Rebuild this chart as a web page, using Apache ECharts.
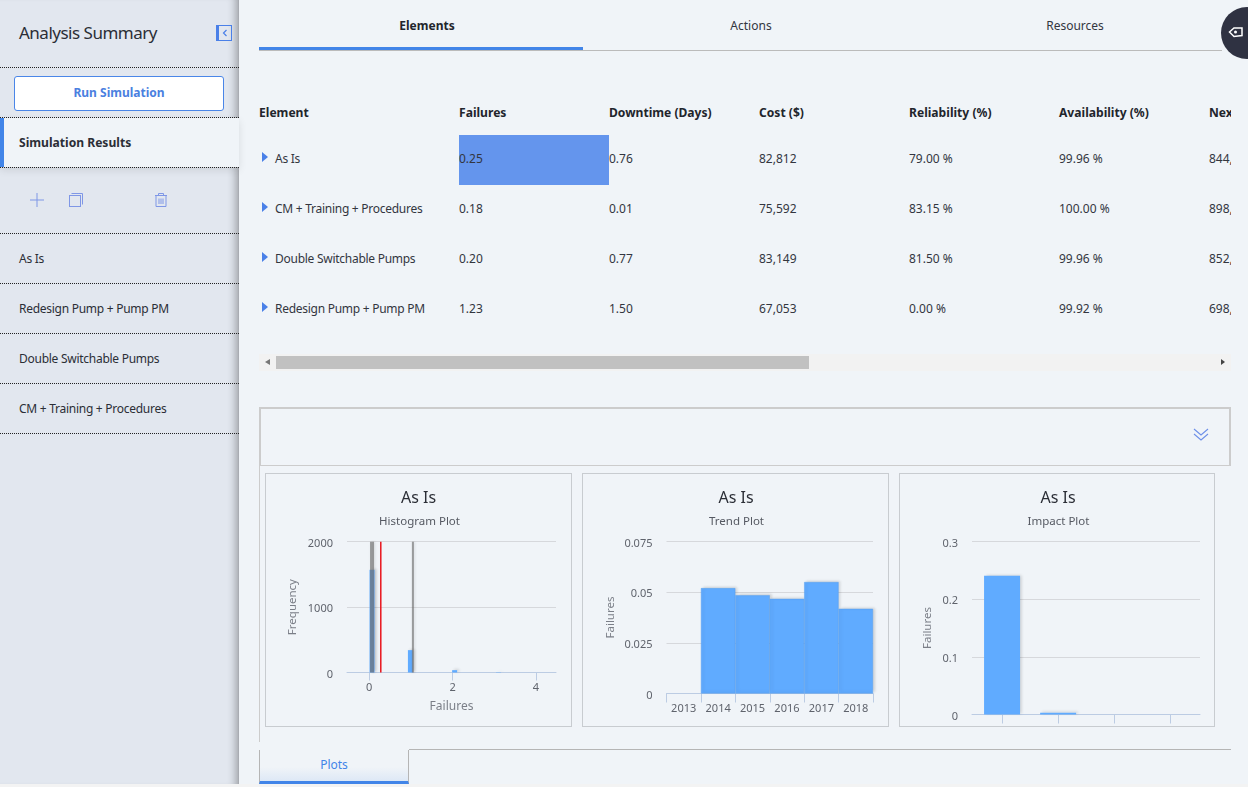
<!DOCTYPE html>
<html><head><meta charset="utf-8">
<script src="https://cdn.jsdelivr.net/npm/echarts@6/dist/echarts.min.js"></script>
<style>
*{box-sizing:border-box}
html,body{margin:0;padding:0;width:1248px;height:787px;overflow:hidden;background:#f3f3f3;font-family:"Noto Sans",sans-serif;color:#2b2e36}
.a{position:absolute;white-space:nowrap}
#main{position:absolute;left:0;top:0;width:1248px;height:784px;background:#f0f4f8}
#side{position:absolute;left:0;top:0;width:239px;height:784px;background:#e2e7ef;box-shadow:inset -9px 0 8px -7px rgba(0,0,0,.32);border-right:1px solid #a9acb2}
.dot{position:absolute;left:0;width:239px;border-top:1px dotted #222}
.nav{position:absolute;left:19px;font-size:12px;letter-spacing:-.27px;line-height:16px}
.th{position:absolute;top:104px;font-size:12.1px;font-weight:700;line-height:17px;white-space:nowrap;color:#22252c}
.td{position:absolute;font-size:12px;line-height:16px;white-space:nowrap;color:#33363f}
.tab{position:absolute;top:17px;width:324px;text-align:center;font-size:12px;line-height:17px}
.box{position:absolute;border:1px solid #c8ccd0}
.tri{position:absolute;width:0;height:0;border-left:6px solid #4a80e8;border-top:5px solid transparent;border-bottom:5px solid transparent}
#clip{position:absolute;left:0;top:0;width:1231px;height:340px;overflow:hidden}
#chart{position:absolute;left:259px;top:466px;width:972px;height:270px}
</style></head><body>
<div id="main"></div>
<div id="clip"></div>
<div class="a" style="left:259px;top:50px;width:963px;border-top:1px solid #bbb"></div>
<div class="a" style="left:259px;top:47px;width:324px;height:3px;background:#4285e8"></div>
<div class="a" style="left:1221px;top:7px;width:52px;height:52px;border-radius:50%;background:#2f3242"></div>
<svg class="a" style="left:1228px;top:25px" width="16" height="14" viewBox="0 0 16 14"><path d="M1.5 7 L6 3 H14 V10.5 L6 11.5 Z" fill="none" stroke="#fff" stroke-width="1.5"/><circle cx="7.5" cy="7" r="1.5" fill="#fff"/></svg>
<div class="a" style="left:259px;top:354px;width:972px;height:17px;background:#f2f2f2"></div>
<div class="a" style="left:276px;top:356px;width:533px;height:13px;background:#c1c1c1"></div>
<div class="a" style="left:265px;top:359px;width:0;height:0;border-right:5px solid #777;border-top:3.5px solid transparent;border-bottom:3.5px solid transparent"></div>
<div class="a" style="left:1221px;top:359px;width:0;height:0;border-left:4px solid #444;border-top:3.5px solid transparent;border-bottom:3.5px solid transparent"></div>
<div class="a" style="left:259px;top:407px;width:972px;height:59px;border:2px solid #ccc;border-bottom:1px solid #ccc"></div>
<div class="a" style="left:259px;top:466px;width:1px;height:276px;background:#ccc"></div>
<svg class="a" style="left:1193px;top:428px" width="16" height="14" viewBox="0 0 16 14"><path d="M1 1 L8 7 L15 1 M1 6 L8 12 L15 6" fill="none" stroke="#6d8fe8" stroke-width="1.1"/></svg>
<div class="box" style="left:265px;top:473px;width:307px;height:254px"></div>
<div class="box" style="left:582px;top:473px;width:307px;height:254px"></div>
<div class="box" style="left:899px;top:473px;width:316px;height:254px"></div>
<div class="a" style="left:409px;top:749px;width:822px;border-top:1px solid #b5b5b5"></div>
<div class="a" style="left:259px;top:750px;width:150px;height:34px;border-left:1px solid #b5b5b5;border-right:1px solid #b5b5b5;border-bottom:3px solid #4285e8;background:linear-gradient(#f0f4f8 55%,#dde8f6);text-align:center;font-size:12px;line-height:29px;color:#4285e8">Plots</div>
<div id="side">
  <div class="a" style="left:19px;top:20px;font-size:17px;letter-spacing:-.5px;line-height:25px;color:#2b2e36">Analysis Summary</div>
  <div class="a" style="left:216px;top:25px;width:16px;height:16px;border:1px solid #4a80e8;border-left:3px solid #4a80e8"></div>
  <svg class="a" style="left:222px;top:29px" width="6" height="8" viewBox="0 0 6 8"><path d="M4.5 1 L1.5 4 L4.5 7" fill="none" stroke="#4a80e8" stroke-width="1.2"/></svg>
  <div class="dot" style="top:67px"></div>
  <div class="a" style="left:14px;top:76px;width:210px;height:35px;background:#fff;border:1px solid #4a86e8;border-radius:3px;text-align:center;font-size:12px;font-weight:700;line-height:31px;color:#4a80e0">Run Simulation</div>
  <div class="a" style="left:0;top:118px;width:239px;height:49px;background:#f0f4f8;border-left:4px solid #4285e8;box-shadow:0 3px 8px rgba(0,0,0,.10)"></div>
  <div class="dot" style="top:117px"></div>
  <div class="a" style="left:19px;top:134px;font-size:12.1px;font-weight:700;line-height:17px">Simulation Results</div>
  <div class="dot" style="top:167px"></div>
  <svg class="a" style="left:29px;top:192px" width="16" height="16"><path d="M1 8H15M8 1V15" stroke="#7f97e6" stroke-width="1"/></svg>
  <svg class="a" style="left:68px;top:192px" width="16" height="16"><rect x="1.5" y="3.5" width="11" height="11" fill="none" stroke="#7f97e6"/><path d="M3.5 1.5H14.5V12.5" fill="none" stroke="#7f97e6"/></svg>
  <svg class="a" style="left:153px;top:192px" width="16" height="16"><path d="M2 3.5H14M5.5 3.5V1.5H10.5V3.5M3 3.5V14.5H13V3.5M6 6.5V12M8 6.5V12M10 6.5V12" fill="none" stroke="#7f97e6"/></svg>
  <div class="dot" style="top:233px"></div>
  <div class="nav" style="top:251px">As Is</div>
  <div class="dot" style="top:283px"></div>
  <div class="nav" style="top:301px">Redesign Pump + Pump PM</div>
  <div class="dot" style="top:333px"></div>
  <div class="nav" style="top:351px">Double Switchable Pumps</div>
  <div class="dot" style="top:383px"></div>
  <div class="nav" style="top:401px">CM + Training + Procedures</div>
  <div class="dot" style="top:433px"></div>
</div>
<div id="chart"></div>
<script>
// Table content
const tabNames = ['Elements', 'Actions', 'Resources'];
const tableHeaders = ['Element', 'Failures', 'Downtime (Days)', 'Cost ($)', 'Reliability (%)', 'Availability (%)', 'Next'];
const elementNames = ['As Is', 'CM + Training + Procedures', 'Double Switchable Pumps', 'Redesign Pump + Pump PM'];
const failures = ['0.25', '0.18', '0.20', '1.23'];
const downtime = ['0.76', '0.01', '0.77', '1.50'];
const cost = ['82,812', '75,592', '83,149', '67,053'];
const reliability = ['79.00 %', '83.15 %', '81.50 %', '0.00 %'];
const availability = ['99.96 %', '100.00 %', '99.96 %', '99.92 %'];
const nextCol = ['844,', '898,', '852,', '698,'];

// Histogram plot
const histX = [0.07, 0.99, 2.05, 3.1];
const histFreq = [1570, 342, 36, 5];
const grayLineX = [0.07, 1.05];
const redLineX = [0.28];
const histTicks = [0, 2, 4];
// Trend plot
const trendYears = ['2013', '2014', '2015', '2016', '2017', '2018'];
const trendFailures = [0, 0.052, 0.0485, 0.0467, 0.055, 0.0418];
// Impact plot
const impactPos = [0, 1, 2, 3];
const impactFailures = [0.2405, 0.003, 0, 0];

const clip = document.getElementById('clip');
const colX = [259, 459, 609, 759, 909, 1059, 1209];
const rowY = [151, 201, 251, 301];
function add(parent, cls, style, text){const d=document.createElement('div');d.className=cls;d.style.cssText=style;if(text!=null)d.textContent=text;parent.appendChild(d);return d;}
tabNames.forEach((t,i)=>add(clip,'tab','left:'+(265+324*i)+'px;'+(i==0?'font-weight:700;color:#22252c;':'color:#33363f;'),t));
add(clip,'a','left:459px;top:135px;width:150px;height:50px;background:#6495ed');
tableHeaders.forEach((h,i)=>add(clip,'th','left:'+colX[i]+'px;',h));
[[elementNames,0],[failures,1],[downtime,2],[cost,3],[reliability,4],[availability,5],[nextCol,6]].forEach(([arr,c])=>{
  arr.forEach((v,r)=>{
    const x = c==0 ? 275 : colX[c];
    add(clip,'td','left:'+x+'px;top:'+rowY[r]+'px;'+(c==0?'letter-spacing:-.27px;':''),v);
    if(c==0) add(clip,'tri','left:262px;top:'+(rowY[r]+1)+'px;');
  });
});

const axisBlue = '#bccce3', gridGray = '#d6d8dc', txt = '#5f636c';
const font = '"Noto Sans",sans-serif';
// chart origin: 259,466
const G = (l,r,t,b)=>({left:l-259,top:t-466,width:r-l,height:b-t,containLabel:false});
const shadow = {shadowColor:'rgba(0,0,0,.16)',shadowBlur:3,shadowOffsetX:2,shadowOffsetY:-1};
const ttl = (text,cx,y,size,color)=>({text,left:cx-259,top:y-466,textAlign:'center',textStyle:{fontFamily:font,fontSize:size,fontWeight:'normal',color}});
const yAxis = (gi,max,interval,fmt,name,nameGap)=>({type:'value',gridIndex:gi,min:0,max,interval,
  axisLine:{show:false},axisTick:{show:false},
  axisLabel:{margin:14,formatter:v=>'{a|'+fmt(v)+'}',
    rich:{a:{color:txt,fontSize:11,fontFamily:font,padding:[4,0,0,0]}}},
  splitLine:{lineStyle:{color:gridGray,width:1}},
  name,nameLocation:'middle',nameGap,nameRotate:90,nameTextStyle:{color:'#7b7f88',fontSize:11.5,fontFamily:font}});
const option = {
  animation:false,
  title:[
    ttl('As Is',413.5,485,16,'#2b2e36'),ttl('Histogram Plot',414.5,511,11.5,'#555962'),
    ttl('As Is',731,485,16,'#2b2e36'),ttl('Trend Plot',731.5,511,11.5,'#555962'),
    ttl('As Is',1053,485,16,'#2b2e36'),ttl('Impact Plot',1053.5,511,11.5,'#555962')
  ],
  grid:[G(347,556,541.7,672.5),G(666.5,873,541.5,693.5),G(972,1200,541.5,714.5)],
  xAxis:[
    {type:'value',gridIndex:0,min:-0.53,max:4.48,
      axisLine:{show:true,onZero:false,lineStyle:{color:axisBlue}},
      axisTick:{show:true,customValues:histTicks,length:8,lineStyle:{color:axisBlue}},
      axisLabel:{customValues:histTicks,color:txt,fontSize:11,fontFamily:font,margin:10},
      splitLine:{show:false},
      name:'Failures',nameLocation:'middle',nameGap:28,nameTextStyle:{color:'#7b7f88',fontSize:12,fontFamily:font}},
    {type:'category',gridIndex:1,data:trendYears,boundaryGap:true,
      axisLine:{show:true,lineStyle:{color:axisBlue}},axisTick:{show:true,length:9,lineStyle:{color:axisBlue}},
      axisLabel:{color:txt,fontSize:11,fontFamily:font,margin:10}},
    {type:'value',gridIndex:2,min:-0.536,max:3.53,
      axisLine:{show:true,onZero:false,lineStyle:{color:axisBlue}},
      axisTick:{show:true,customValues:impactPos,length:9,lineStyle:{color:axisBlue}},
      axisLabel:{show:false},splitLine:{show:false}}
  ],
  yAxis:[
    yAxis(0,2000,1000,v=>String(v),'Frequency',48),
    yAxis(1,0.075,0.025,v=>v===0?'0':String(+v.toFixed(3)),'Failures',50),
    yAxis(2,0.3,0.1,v=>v===0?'0':v.toFixed(1),'Failures',38)
  ],
  series:[
    {type:'bar',xAxisIndex:0,yAxisIndex:0,barWidth:5,z:2,
      data:histX.map((x,i)=>[x,histFreq[i]]),
      itemStyle:{color:'#60abff',...shadow}},
    ...grayLineX.map((x,i)=>({type:'line',xAxisIndex:0,yAxisIndex:0,z:3,symbol:'none',silent:true,
      data:[[x,0],[x,2000]],
      lineStyle:{color:'rgba(115,115,115,.68)',width:i==0?4:2,shadowColor:'rgba(0,0,0,.16)',shadowBlur:3,shadowOffsetX:1}})),
    ...redLineX.map(x=>({type:'line',xAxisIndex:0,yAxisIndex:0,z:4,symbol:'none',silent:true,
      data:[[x,0],[x,2000]],lineStyle:{color:'#e8141c',width:1.5}})),
    {type:'bar',xAxisIndex:1,yAxisIndex:1,barCategoryGap:0,z:2,
      data:trendFailures.map(v=>v===0?{value:v,itemStyle:{opacity:0}}:v),
      itemStyle:{color:'#60abff',borderColor:'#59a0ef',borderWidth:0.5,...shadow}},
    {type:'bar',xAxisIndex:2,yAxisIndex:2,barWidth:36,z:2,
      data:impactPos.map((x,i)=>[x,impactFailures[i]]).map(d=>d[1]===0?{value:d,itemStyle:{opacity:0}}:d),
      itemStyle:{color:'#60abff',...shadow}}
  ]
};
echarts.init(document.getElementById('chart'),null,{renderer:'canvas'}).setOption(option);
</script>
</body></html>
